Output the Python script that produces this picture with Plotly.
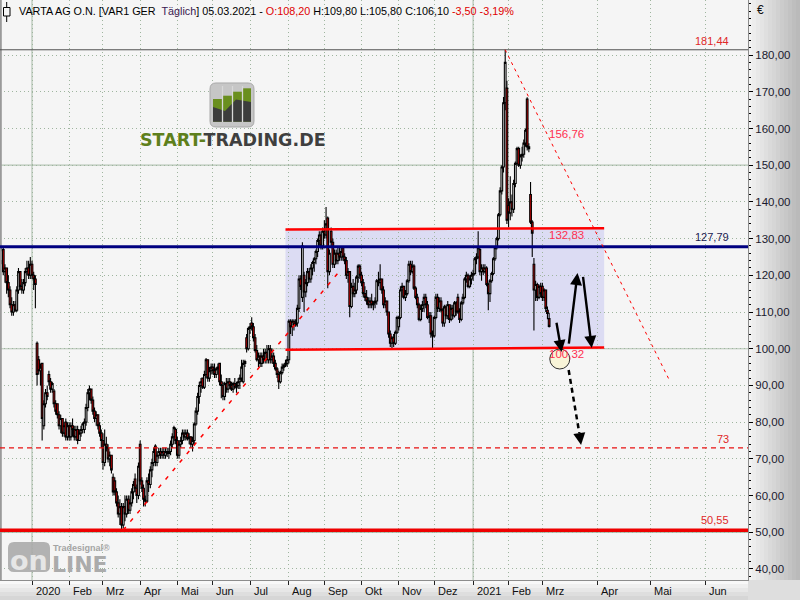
import pandas as pd
import plotly.graph_objects as go

# ---------------- data (daily candles, 06.12.2019 - 05.03.2021) ----------------
opens = [
    124, 127, 121, 122, 118, 116, 112, 110, 112, 110.5, 116, 121, 117, 116, 118, 121, 122, 120,
    123, 120, 119, 101.5, 97, 94, 96, 79, 85, 88,
    93, 91, 89, 88.5, 85, 85, 82, 79, 81, 77,
    80, 76, 79, 76, 79, 78, 76, 78, 75, 77,
    78, 78, 80, 84, 88, 89, 86, 83, 81, 82,
    79, 77, 75, 69, 74, 73, 70, 71, 65, 64,
    61, 58, 55, 57, 52, 57, 55, 59, 56, 58,
    61, 64.5, 62, 60, 74, 64, 62, 59, 58.5, 64,
    63, 67, 69, 73.5, 69, 71, 72, 71, 72, 71,
    72, 71.5, 72, 74, 76, 78, 75, 71, 74, 75,
    77, 76, 77, 75.5, 76, 74, 75, 79.5, 83, 87,
    90, 92, 89.5, 93, 97, 92, 94, 95, 94, 93,
    94.5, 96, 91, 90, 87, 90.5, 89, 91, 90, 89,
    90.5, 89.5, 90, 91, 92, 91, 96, 103, 100, 105.5,
    107, 106, 103, 99.5, 97, 98, 96, 98, 97, 99,
    97, 100, 97, 98, 96, 94.5, 93, 91, 93.5, 95,
    95.5, 96, 97, 107.5, 106, 107.5, 106.5, 107, 111, 119,
    114, 120, 115.5, 118, 121, 119, 122, 123.5, 124.5, 126.5,
    129.5, 131, 128, 132, 131, 135.6, 121, 132, 129, 123,
    126, 124, 126, 125, 127.5, 125, 124, 120, 121, 111.5,
    117, 115, 116, 119.5, 122.5, 120, 118, 115, 114, 113,
    112, 113, 112, 112.5, 113, 118.5, 118, 119, 116, 112,
    113, 110, 104, 101.5, 103, 101.5, 104.5, 106, 108.5, 116,
    117, 114, 115, 118.5, 123, 121, 122.5, 116.5, 114, 112,
    108, 111, 112, 114, 112, 108.5, 109, 104, 103.5, 108.5,
    114, 111, 113, 110.5, 107, 111.4, 109, 112, 108, 111,
    109, 112.5, 114, 110, 108, 112.5, 114, 119, 120, 117,
    119, 120, 120.5, 124.5, 125, 127, 121, 122, 121, 122,
    117.5, 115, 118.5, 120.5, 124.5, 127.5, 130, 136.5, 143, 149.5,
    167, 171, 139, 137, 140, 138, 145, 150.5, 154.5, 150,
    152.5, 153, 156, 168, 155, 142, 134.5, 123, 116, 117.5,
    114, 117, 117, 114, 116, 110.5, 108.2,
]
highs = [
    128, 128, 123, 122, 120, 117, 114, 113, 113, 117, 122, 121, 119, 119, 122, 124, 124, 125,
    124, 121, 120, 102, 98, 96, 96, 86, 89, 90,
    94, 92, 91, 89, 86, 85, 83, 82, 81, 80,
    81, 80, 80, 80, 81, 79, 79, 79, 78, 79,
    80, 81, 85, 89, 90, 89, 87, 84, 83, 82,
    80, 78, 77, 78, 76, 74, 72, 71, 66, 65,
    62, 60, 59, 58, 58, 60, 60, 60, 60, 62,
    64, 66, 63, 69, 75, 65, 63, 60, 65, 66,
    68, 70, 73, 74, 72, 73, 73, 73, 73, 73,
    73, 73, 75, 77, 79, 78.5, 76, 75, 76, 78,
    78, 78, 78, 77, 76, 76, 80, 84, 88, 91,
    92, 92, 94, 97.5, 97, 95, 96, 96, 96, 95,
    96, 96, 93, 91, 91, 92, 92, 92, 91, 91,
    92, 91, 92, 93, 97, 97, 97, 104, 106, 107,
    108.6, 107, 104, 101, 99, 99, 99, 100, 100, 101,
    101, 101, 100, 99, 97, 95, 94, 94, 96, 96,
    97, 98, 108, 108, 108, 108, 108, 112, 120, 120,
    129, 121, 119, 122, 122, 123, 124, 125, 127, 130,
    132, 132, 133, 135, 138.6, 136, 127, 133, 130, 127,
    127, 128, 128, 128, 128, 126, 125, 122, 121, 118,
    119, 118, 120, 123, 123, 121, 119, 117, 116, 114,
    114, 115, 113, 114, 119, 121, 123, 119, 117, 114,
    113, 110, 105, 103.5, 104, 105, 109, 109, 117, 118,
    117, 116, 119, 124, 124, 124, 123, 117, 115, 112.5,
    112, 113, 115, 115, 113, 110, 110, 105, 109, 115,
    115, 114, 114, 111, 112, 112, 113, 112, 112, 112,
    113, 113, 115, 111, 113, 115, 119.5, 121, 120.5, 120,
    121, 121.5, 125, 126, 132, 127.5, 123, 123, 123, 122.5,
    118, 119, 121, 125, 128, 130.5, 137, 144, 150, 168.6,
    181.44, 173, 141, 147, 142, 146, 151, 155, 155, 153,
    155, 157, 160, 168.5, 156, 145.4, 135, 124.7, 118.5, 118,
    117.5, 118, 118, 116.5, 116, 111.5, 109.8,
]
lows = [
    123, 120, 118, 115, 114, 111, 109, 109, 110, 110, 115, 116, 115, 115, 117, 120, 119, 119,
    119, 116, 111, 90, 93, 90, 75, 78, 84, 86,
    90, 88, 88, 84, 82, 81, 78, 77, 76, 76,
    75, 75, 75, 75, 76, 75, 75, 74, 75, 76,
    77, 77, 79, 83, 86, 85, 82, 80, 79, 78,
    76, 73, 67, 68, 72, 69, 68, 66, 60, 60,
    57, 54, 52, 50.55, 51, 53, 54, 55, 55, 57,
    59, 61, 58, 59, 63, 61, 57, 57, 58, 61,
    62, 65, 68, 68, 68, 70, 70, 70, 70, 70,
    70.5, 70, 71, 73, 74, 74, 70, 70, 73, 74,
    75, 75, 75, 74, 73, 72, 74, 79, 82, 85,
    88, 89, 89, 92, 91, 91, 93, 93, 92, 92,
    93, 90, 86.5, 86, 86, 88, 88, 89, 88.5, 88,
    89, 88, 89, 89, 91, 90.5, 95, 99, 99.5, 104,
    105, 102, 99, 96.5, 95, 95, 95, 96, 96, 96,
    96, 96, 96, 95, 94, 92, 89, 90.5, 93, 94,
    95, 95, 96, 104, 103.5, 105, 106, 106, 110, 116,
    112.7, 110, 114, 117, 118, 118, 120, 121, 123, 125,
    128, 127, 127, 130, 130, 116.5, 120, 128, 122, 122,
    123, 123, 124, 124, 124, 123, 119, 118, 108.6, 111,
    114, 114, 115, 118, 119, 117, 114, 113, 112, 111,
    111, 111, 110.5, 111, 112, 117, 116, 115, 111, 111,
    109, 103, 100.5, 100, 100.5, 101, 104, 105, 108, 114,
    113.5, 113, 114.5, 118, 120, 120.5, 116, 113.5, 111, 107.5,
    107.5, 110, 110, 111, 108, 107, 103, 100.2, 103, 108,
    110, 110, 110, 106, 106, 108, 108, 107, 107.5, 108,
    108.5, 109, 109.5, 107, 107.5, 112, 113.5, 118, 116.5, 116.5,
    117.5, 118.5, 120, 123, 124.5, 120, 118.5, 120, 120.5, 117,
    110.5, 112.7, 118, 120, 124, 127, 129.5, 136, 142, 148,
    165, 134, 133, 135, 136, 137, 144, 150, 149.5, 149,
    151, 152, 155, 154, 153.5, 134, 125, 105, 113, 113,
    113.5, 114, 113, 113, 110, 108, 105.8,
]
closes = [
    127, 121, 122, 118, 116, 112, 110, 112, 110.5, 116, 121, 117, 116, 118, 121, 122, 120, 123,
    120, 119, 117.5, 93, 94, 95, 81, 85, 88, 87,
    91, 89, 90.5, 85, 83, 82, 79, 81, 77, 79,
    76, 79, 76, 79, 78, 76, 78, 75, 77, 78,
    79.5, 80, 84, 88, 89, 86, 83, 81, 82, 79,
    77, 75, 69, 74, 73, 70, 71, 67, 61, 61,
    58, 55, 57, 52, 57, 55, 59, 56, 58, 61,
    63, 62, 60, 68, 64, 62, 59, 58.5, 64, 63,
    67, 69, 72, 69, 71, 72, 71, 72, 71, 72,
    71.5, 72, 74, 76, 78.5, 75, 71, 74, 75, 77,
    76, 77, 75.5, 76, 74, 75, 79.5, 83, 87, 90,
    91, 89.5, 93, 97, 92, 94, 95, 94, 93, 94.5,
    95, 91, 90, 87, 90.5, 89, 91, 90, 89, 90.5,
    89.5, 90, 91, 92, 95, 96, 96.5, 100, 105.5, 106,
    106, 103, 99.5, 97, 98, 96, 98, 97, 99, 97,
    100, 97, 98, 96, 94.5, 93, 91, 93.5, 95, 95.5,
    96, 97, 107.5, 106, 107.5, 106.5, 107, 111, 119, 117,
    128, 115.5, 118, 121, 119, 122, 123.5, 124.5, 126.5, 129.5,
    131, 128, 132, 131, 134, 121, 126, 129, 123, 126,
    124, 126, 125, 126.5, 125, 124, 120, 121, 111.5, 117,
    115, 116, 119.5, 122.5, 120, 118, 115, 114, 113, 112,
    113, 112, 112.5, 113, 118.5, 118, 119, 116, 112, 113,
    110, 104, 101.5, 103, 101.5, 104.5, 108.5, 108.5, 116, 117,
    114, 115, 118.5, 123, 121, 122.5, 116.5, 114, 112, 108,
    111, 112, 114, 112, 108.5, 109, 104, 103.5, 108.5, 114,
    111, 113, 110.5, 107, 111.4, 109, 112, 108, 111, 109,
    112.5, 110, 110, 108, 112.5, 114, 119, 120, 117, 119,
    120, 120.5, 124.5, 125, 127.5, 121, 122, 121, 122, 117.5,
    115, 118.5, 120.5, 124.5, 127.5, 130, 136.5, 143, 149.5, 167,
    178, 135, 137, 140, 138, 145, 150.5, 154.5, 150, 152.5,
    153, 156, 159.5, 155, 154.5, 134.5, 131.5, 116, 117.5, 114,
    117, 115, 114, 116, 111, 109.6, 106.1,
]

first_day, last_day = "2019-12-06", "2021-03-05"
holidays = ["2020-01-01"]

month_starts = ["2020-01-01", "2020-02-01", "2020-03-01", "2020-04-01", "2020-05-01", "2020-06-01",
                "2020-07-01", "2020-08-01", "2020-09-01", "2020-10-01", "2020-11-01", "2020-12-01",
                "2021-01-01", "2021-02-01", "2021-03-01", "2021-04-01", "2021-05-01", "2021-06-01"]
month_labels = ["2020", "Feb", "Mrz", "Apr", "Mai", "Jun", "Jul", "Aug", "Sep", "Okt", "Nov", "Dez",
                "2021", "Feb", "Mrz", "Apr", "Mai", "Jun"]
year_starts = ["2020-01-01", "2021-01-01"]
y_ticks = [40, 50, 60, 70, 80, 90, 100, 110, 120, 130, 140, 150, 160, 170, 180]
solid_grid_levels = [50, 100, 150]

level_values = [181.44, 127.79, 73.0, 50.55]
level_labels = ["181,44", "127,79", "73", "50,55"]

box_dates = ["2020-07-30", "2021-04-05"]
box_top = [132.5, 132.83]
box_bottom = [99.75, 100.32]
box_labels = ["156,76", "132,83", "100,32"]

support_dates = ["2020-03-18", "2020-09-15"]
support_vals = [50.6, 121.7]
down_dates = ["2021-01-28", "2021-05-12"]
down_vals = [181.44, 91.2]

proj_from_dates = ["2021-03-09", "2021-03-16", "2021-03-24"]
proj_from_vals = [107.5, 101.0, 120.0]
proj_to_dates = ["2021-03-12", "2021-03-21", "2021-03-29"]
proj_to_vals = [99.1, 120.6, 100.2]
drop_dates = ["2021-03-16", "2021-03-22", "2021-03-23"]
drop_vals = [94.2, 77.0, 73.8]
circle_date, circle_val = "2021-03-11", 97.2

# ---------------- calendar / positions ----------------
dates = pd.bdate_range(first_day, last_day)
dates = dates[~dates.isin(pd.to_datetime(holidays))]
n = len(dates)
assert n == len(opens) == len(highs) == len(lows) == len(closes), (n, len(opens), len(highs), len(lows), len(closes))
FUTURE_DAY = 1.05


def pos(d):
    d = pd.Timestamp(d)
    if d <= dates[-1]:
        return int(dates.searchsorted(d))
    return (n - 1) + (d - dates[-1]).days * FUTURE_DAY


xpos = list(range(n))
PW, PH = 748, 580           # plot area in pixels
PX_BAR = 1.69
x0_idx = pos("2020-01-02")
x_range = [x0_idx - 32 / PX_BAR, x0_idx + (PW - 32) / PX_BAR]


def X(px):
    return px / PW


def Y(py):
    return 1 - py / PH


def pt(px, py):
    return f"{X(px):.5f},{Y(py):.5f}"


def rrect(x0, y0, x1, y1, r):
    return (f"M{pt(x0 + r, y0)} L{pt(x1 - r, y0)} Q{pt(x1, y0)} {pt(x1, y0 + r)} "
            f"L{pt(x1, y1 - r)} Q{pt(x1, y1)} {pt(x1 - r, y1)} L{pt(x0 + r, y1)} "
            f"Q{pt(x0, y1)} {pt(x0, y1 - r)} L{pt(x0, y0 + r)} Q{pt(x0, y0)} {pt(x0 + r, y0)} Z")


FONT = "Liberation Sans, Arial, sans-serif"

fig = go.Figure()
fig.add_trace(go.Candlestick(
    x=xpos, open=opens, high=highs, low=lows, close=closes,
    increasing=dict(fillcolor="#ffffff", line=dict(color="#000000", width=1.1)),
    decreasing=dict(fillcolor="#f00000", line=dict(color="#000000", width=1.1)),
    whiskerwidth=0, showlegend=False, hoverinfo="skip",
))

shapes = []
# right axis gradient
ns = 13
for k in range(ns):
    g = int(242 - (242 - 186) * k / (ns - 1))
    shapes.append(dict(type="rect", xref="paper", yref="paper", x0=X(PW + 4 * k), x1=X(PW + 4 * k + 4),
                       y0=0, y1=1, fillcolor=f"rgb({g},{g},{g})", line_width=0, layer="below"))
# bottom axis gradient
for k in range(5):
    g = int(248 - (248 - 214) * k / 4)
    shapes.append(dict(type="rect", xref="paper", yref="paper", x0=0, x1=1,
                       y0=Y(PH + 4 * k + 4), y1=Y(PH + 4 * k), fillcolor=f"rgb({g},{g},{g})",
                       line_width=0, layer="below"))
shapes.append(dict(type="rect", xref="paper", yref="paper", x0=1, x1=X(800), y0=Y(600), y1=0,
                   fillcolor="#dedede", line_width=0, layer="below"))
# left border
shapes.append(dict(type="line", xref="paper", yref="paper", x0=X(0.8), x1=X(0.8), y0=0, y1=1,
                   line=dict(color="#9a9a9a", width=2), layer="above"))
# solid grid lines
for d in year_starts:
    shapes.append(dict(type="line", xref="x", yref="paper", x0=pos(d), x1=pos(d), y0=0, y1=1,
                       line=dict(color="#b4c4b4", width=1.2), layer="below"))
for v in solid_grid_levels:
    shapes.append(dict(type="line", xref="paper", yref="y", x0=0, x1=1, y0=v, y1=v,
                       line=dict(color="#b4c4b4", width=1.2), layer="below"))
# trading range box
bx0, bx1 = pos(box_dates[0]), pos(box_dates[1])
shapes.append(dict(type="path", xref="x", yref="y",
                   path=f"M{bx0},{box_bottom[0]} L{bx1},{box_bottom[1]} L{bx1},{box_top[1]} L{bx0},{box_top[0]} Z",
                   fillcolor="#dcdcf3", line_width=0, layer="below"))
# horizontal levels
level_styles = [dict(color="#505050", width=1), dict(color="#000080", width=3),
                dict(color="#e81010", width=1.2, dash="5px,4px"), dict(color="#ee0000", width=3.5)]
for v, st in zip(level_values, level_styles):
    shapes.append(dict(type="line", xref="paper", yref="y", x0=0, x1=1, y0=v, y1=v, line=st, layer="above"))
# box edges
shapes.append(dict(type="line", xref="x", yref="y", x0=bx0, x1=bx1, y0=box_top[0], y1=box_top[1],
                   line=dict(color="#ff0000", width=2.5), layer="above"))
shapes.append(dict(type="line", xref="x", yref="y", x0=bx0, x1=bx1, y0=box_bottom[0], y1=box_bottom[1],
                   line=dict(color="#ff0000", width=2.5), layer="above"))
# trend lines
shapes.append(dict(type="line", xref="x", yref="y", x0=pos(support_dates[0]), x1=pos(support_dates[1]),
                   y0=support_vals[0], y1=support_vals[1], line=dict(color="#ff0000", width=1.5, dash="4px,7px"),
                   layer="above"))
shapes.append(dict(type="line", xref="x", yref="y", x0=pos(down_dates[0]), x1=pos(down_dates[1]),
                   y0=down_vals[0], y1=down_vals[1], line=dict(color="#ff0000", width=1, dash="3px,4px"),
                   layer="above"))
# circle
shapes.append(dict(type="circle", xref="x", yref="y", xsizemode="pixel", ysizemode="pixel",
                   xanchor=pos(circle_date), yanchor=circle_val, x0=-10, x1=10, y0=-10, y1=10,
                   fillcolor="#f8f4d8", line=dict(color="#303030", width=1), layer="above"))
# dashed projection
shapes.append(dict(type="line", xref="x", yref="y", x0=pos(drop_dates[0]), x1=pos(drop_dates[1]),
                   y0=drop_vals[0], y1=drop_vals[1], line=dict(color="#000000", width=2.5, dash="5px,4px"),
                   layer="above"))
# logo icon
shapes.append(dict(type="path", xref="paper", yref="paper", path=rrect(210, 83, 254, 127, 6),
                   fillcolor="#c6c6c6", line=dict(color="#a8a8a8", width=1), layer="above"))
for (bl, br, top) in [(213, 222, 99), (223, 232, 95.7), (233, 242, 91.7), (243, 251, 88.3)]:
    shapes.append(dict(type="rect", xref="paper", yref="paper", x0=X(bl), x1=X(br), y0=Y(121.7), y1=Y(top),
                       fillcolor="#6a8f1e", line_width=0, layer="above"))
shapes.append(dict(type="path", xref="paper", yref="paper",
                   path=f"M{pt(213,107)} L{pt(225,111)} L{pt(236,99.5)} L{pt(251,102)} L{pt(251,121.7)} L{pt(213,121.7)} Z",
                   fillcolor="#3c3c3c", line_width=0, layer="above"))
for sx in [222.5, 232.5, 242.5]:
    shapes.append(dict(type="line", xref="paper", yref="paper", x0=X(sx), x1=X(sx), y0=Y(122), y1=Y(86),
                       line=dict(color="#d8d8d8", width=1.3), layer="above"))
# watermark box
shapes.append(dict(type="path", xref="paper", yref="paper", path=rrect(8, 542, 50, 572, 6),
                   fillcolor="#ababab", line_width=0, layer="above", opacity=0.9))
# title icon
shapes.append(dict(type="line", xref="paper", yref="paper", x0=X(6.7), x1=X(6.7), y0=Y(22), y1=Y(2),
                   line=dict(color="#000000", width=1), layer="above"))
shapes.append(dict(type="rect", xref="paper", yref="paper", x0=X(3.5), x1=X(10), y0=Y(16), y1=Y(7.5),
                   fillcolor="#f5f5f5", line=dict(color="#000000", width=1), layer="above"))

ann = []


def fmt(v):
    return f"{v:.2f}".replace(".", ",")


chg = closes[-1] - closes[-2]
pct = chg / closes[-2] * 100
title = (f"VARTA AG O.N. [VAR1 GER\u00a0 <span style='color:#3a1850'>Täglich</span>] "
         f"{dates[-1].strftime('%d.%m.%Y')} - <span style='color:#e00000'>O:{fmt(opens[-1])}</span> "
         f"H:{fmt(highs[-1])} L:{fmt(lows[-1])} C:{fmt(closes[-1])} "
         f"<span style='color:#e00000'>{fmt(chg)} {fmt(pct)}%</span>")
ann.append(dict(xref="paper", yref="paper", x=X(17), y=Y(11), xanchor="left", yanchor="middle",
                text=title, showarrow=False, font=dict(family=FONT, size=10.8, color="#000000")))
ann.append(dict(xref="paper", yref="paper", x=X(755), y=Y(10), xanchor="left", yanchor="middle",
                text="€", showarrow=False, font=dict(family=FONT, size=12, color="#101010")))
# x labels
for d, lab in zip(month_starts, month_labels):
    ann.append(dict(xref="x", yref="paper", x=pos(d), y=Y(591), xanchor="left", yanchor="middle", xshift=1.5,
                    text=lab, showarrow=False, font=dict(family=FONT, size=11, color="#101010")))
# level labels
lab_colors = ["#e02828", "#1a1a50", "#e02828", "#e02828"]
lab_shift = [1, 2, 1, 2]
for v, lab, c, s in zip(level_values, level_labels, lab_colors, lab_shift):
    ann.append(dict(xref="paper", yref="y", x=X(731), y=v, xanchor="right", yanchor="bottom", yshift=s,
                    text=lab, showarrow=False, font=dict(family=FONT, size=11, color=c)))
for lab, py in zip(box_labels, [134, 235, 354]):
    ann.append(dict(xref="paper", yref="paper", x=X(566), y=Y(py), xanchor="center", yanchor="middle",
                    text=lab, showarrow=False, font=dict(family=FONT, size=11.5, color="#ff3050")))
# projection arrows
for fd, fv, td, tv in zip(proj_from_dates, proj_from_vals, proj_to_dates, proj_to_vals):
    ann.append(dict(xref="x", yref="y", axref="x", ayref="y", x=pos(td), y=tv, ax=pos(fd), ay=fv,
                    text="", showarrow=True, arrowhead=2, arrowsize=1, arrowwidth=2.4,
                    arrowcolor="#000000", standoff=0))
ann.append(dict(xref="x", yref="y", axref="x", ayref="y", x=pos(drop_dates[2]), y=drop_vals[2],
                ax=pos(drop_dates[1]), ay=drop_vals[1], text="", showarrow=True, arrowhead=2,
                arrowsize=1, arrowwidth=2.4, arrowcolor="#000000", standoff=0))
# logo text
ann.append(dict(xref="paper", yref="paper", x=X(232.5), y=Y(139.5), xanchor="center", yanchor="middle",
                text="<b><span style='color:#5e7f1c'>START-</span>TRADING.DE</b>", showarrow=False,
                font=dict(family="DejaVu Sans, sans-serif", size=17.5, color="#3f3f3f")))
# watermark text
ann.append(dict(xref="paper", yref="paper", x=X(29), y=Y(560), xanchor="center", yanchor="middle",
                text="<b>on</b>", showarrow=False,
                font=dict(family="DejaVu Sans, sans-serif", size=27, color="#e6e6e6")))
ann.append(dict(xref="paper", yref="paper", x=X(50), y=Y(564), xanchor="left", yanchor="middle",
                text="<b>LINE</b>", showarrow=False,
                font=dict(family="DejaVu Sans, sans-serif", size=22, color="#ababab")))
ann.append(dict(xref="paper", yref="paper", x=X(51), y=Y(548), xanchor="left", yanchor="middle",
                text="<b>Tradesignal®</b>", showarrow=False,
                font=dict(family=FONT, size=9, color="#a4a4a4")))

fig.update_layout(
    width=800, height=600, margin=dict(l=0, r=52, t=0, b=20, autoexpand=False),
    paper_bgcolor="#f5f5f5", plot_bgcolor="#f5f5f5",
    showlegend=False, boxgap=0, boxgroupgap=0, separators=",.",
    shapes=shapes, annotations=ann, hovermode=False,
    xaxis=dict(range=x_range, tickmode="array", tickvals=[pos(d) for d in month_starts],
               showticklabels=False, ticks="outside", ticklen=4, tickcolor="#202020",
               showgrid=True, gridcolor="#9fb59f", griddash="1px,3px", gridwidth=1,
               showline=True, linecolor="#8c8c8c", linewidth=1, zeroline=False,
               rangeslider=dict(visible=False), fixedrange=True),
    yaxis=dict(side="right", range=[37.0, 195.0], tickmode="array", tickvals=y_ticks, tickformat=".2f",
               ticks="outside", ticklen=4, tickcolor="#000000",
               minor=dict(dtick=2, tick0=0, ticks="outside", ticklen=2, tickcolor="#000000", showgrid=False),
               showgrid=True, gridcolor="#9fb59f", griddash="1px,3px", gridwidth=1,
               showline=True, linecolor="#8c8c8c", linewidth=1, zeroline=False,
               tickfont=dict(family=FONT, size=11.5, color="#1a1a2e"), fixedrange=True),
)

fig.write_html("out.html", config={"displayModeBar": False},
               post_script="document.body.style.margin='0';document.body.style.padding='0';")
